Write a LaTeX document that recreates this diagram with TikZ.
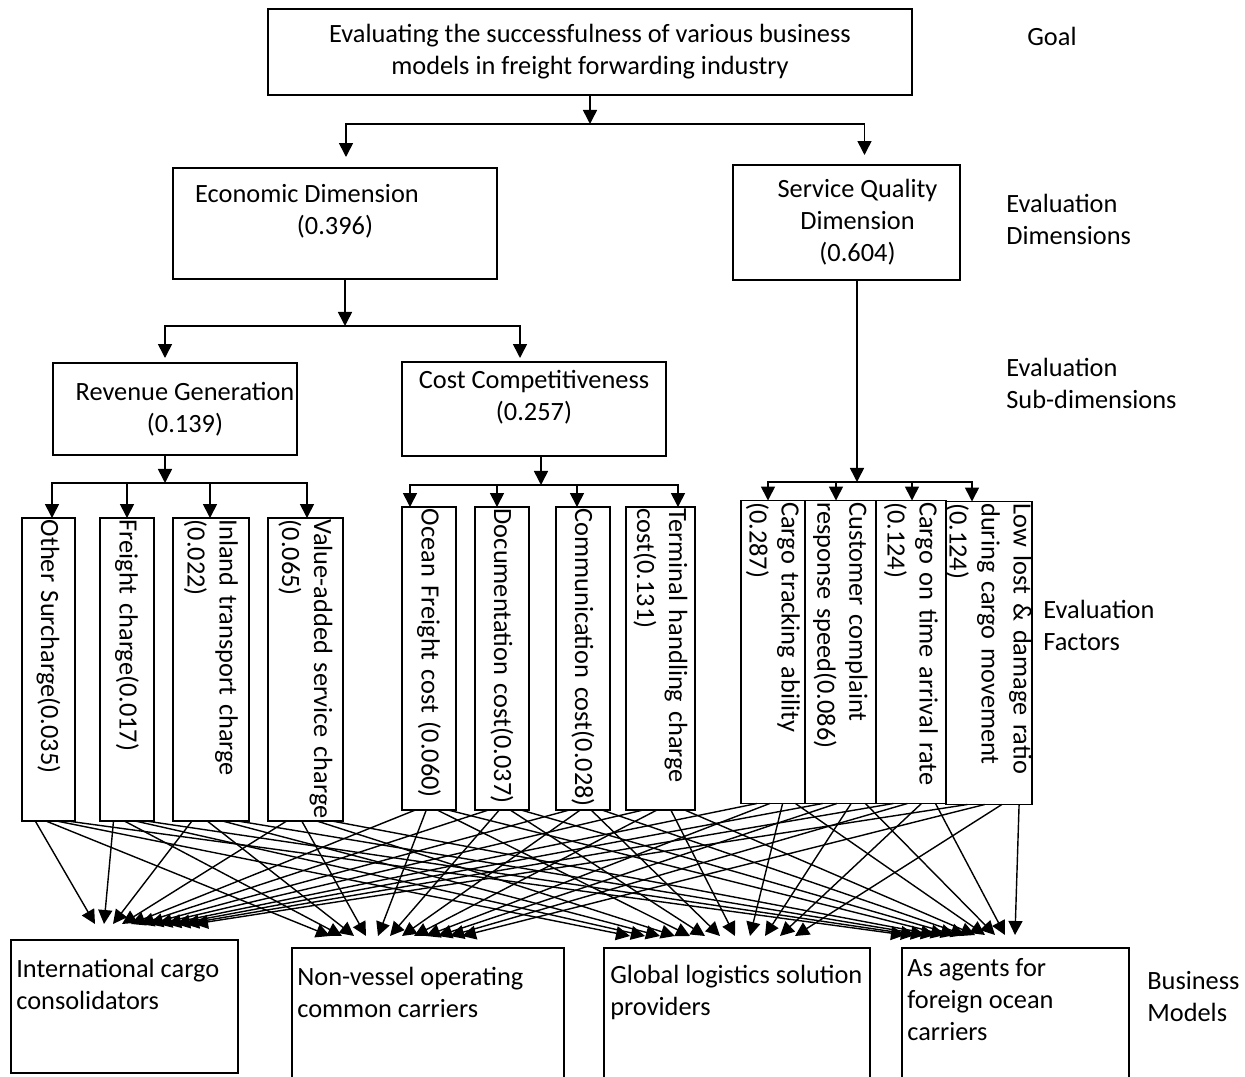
\documentclass[tikz,border=0pt]{standalone}
\usepackage{fontspec}
\setmainfont{Carlito}
\usepackage{tikz}
\usetikzlibrary{calc}
\usetikzlibrary{arrows.meta}

\tikzset{
  box/.style={draw, line width=0.9pt, align=center, inner sep=0pt, outer sep=0pt},
  factor/.style={draw, line width=0.9pt, rotate=-90, minimum width=6.06cm, text width=5.99cm,
    inner xsep=1pt, inner ysep=0pt, outer sep=0pt, align=left},
  modelbox/.style={draw, line width=0.9pt, anchor=north west, outer sep=0pt, minimum height=2.7cm},
  caption/.style={anchor=west, align=left, inner sep=0pt},
  link/.style={->, line width=0.9pt},
  conn/.style={->, line width=0.8pt}
}

\begin{document}
\begin{tikzpicture}[x=0.02cm, y=-0.02cm, font=\fontsize{15pt}{18.2pt}\selectfont,
  >={Triangle[length=0.28cm, width=0.28cm]}]
  \useasboundingbox (0,0) rectangle (1245,1077);

  \node[box, minimum width=12.88cm, minimum height=1.72cm] (goal) at (590,52)
    {Evaluating the successfulness of various business\\models in freight forwarding industry};
  \node[box, minimum width=6.48cm, minimum height=2.22cm] (econ) at (335,223.5)
    {Economic Dimension\rule{1.12cm}{0pt}\\(0.396)\rule[-0.56cm]{0pt}{0pt}};
  \node[box, minimum width=4.54cm, minimum height=2.3cm] (serv) at (846.5,222.5)
    {\rule{0.44cm}{0pt}Service Quality\\\rule{0.44cm}{0pt}Dimension\\\rule{0.44cm}{0pt}(0.604)};
  \node[box, minimum width=4.88cm, minimum height=1.84cm] (rev) at (175,409)
    {\rule{0.4cm}{0pt}Revenue Generation\\\rule{0.4cm}{0pt}(0.139)};
  \node[box, minimum width=5.28cm, minimum height=1.88cm] (cost) at (534,409)
    {Cost Competitiveness\\(0.257)\rule[-0.56cm]{0pt}{0pt}};

  \node[factor, minimum height=1.06cm] (f1) at (48.5,669.5) {Other Surcharge(0.035)};
  \node[factor, minimum height=1.08cm] (f2) at (127,669.5) {Freight charge(0.017)};
  \node[factor, minimum height=1.52cm] (f3) at (211,669.5) {Inland transport charge\\(0.022)};
  \node[factor, minimum height=1.5cm] (f4) at (305.5,669.5) {Value-added service charge\\(0.065)};
  \node[factor, minimum height=1.08cm] (f5) at (429,658.5) {Ocean Freight cost (0.060)};
  \node[factor, minimum height=1.08cm] (f6) at (502,658.5) {Documentation cost(0.037)};
  \node[factor, minimum height=1.08cm] (f7) at (583,658.5) {Communication cost(0.028)};
  \node[factor, minimum height=1.38cm] (f8) at (660.5,658.5) {Terminal handling charge\\cost(0.131)};
  \node[factor, minimum height=1.28cm] (f9) at (773,652) {Cargo tracking ability\\(0.287)};
  \node[factor, minimum height=1.42cm] (f10) at (840.5,652) {Customer complaint\\response speed(0.086)};
  \node[factor, minimum height=1.4cm] (f11) at (911,652) {Cargo on time arrival rate\\(0.124)};
  \node[factor, minimum height=1.72cm] (f12) at (989,653) {Low lost \& damage ratio\\during cargo movement\\(0.124)};

  \node[modelbox, minimum width=4.54cm, minimum height=2.66cm] (m1) at (11,940) {};
  \node[modelbox, minimum width=5.44cm] (m2) at (292,948) {};
  \node[modelbox, minimum width=5.32cm] (m3) at (604,948) {};
  \node[modelbox, minimum width=4.54cm] (m4) at (902,948) {};
  \node[caption] (m1t) at ([shift={(5,44)}]m1.north west) {International cargo\\consolidators};
  \node[caption] (m2t) at ([shift={(5,44)}]m2.north west) {Non-vessel operating\\common carriers};
  \node[caption] (m3t) at ([shift={(6,44)}]m3.north west) {Global logistics solution\\providers};
  \node[caption] (m4t) at ([shift={(5,52)}]m4.north west) {As agents for\\foreign ocean\\carriers};

  \node[caption] (lgoal) at (1027,36) {Goal};
  \node[caption] (ldim) at (1006,219) {Evaluation\\Dimensions};
  \node[caption] (lsub) at (1006,383) {Evaluation\\Sub-dimensions};
  \node[caption] (lfac) at (1043,625) {Evaluation\\Factors};
  \node[caption] (lmod) at (1147,997) {Business\\Models};

  \coordinate (b1) at (590,124);
  \draw[link] (goal.south) -- (b1);
  \draw[link] (b1) -| ([shift={(11,-11)}]econ.north);
  \draw[link] (b1) -| ([shift={(18,-10)}]serv.north);

  \coordinate (b2) at (345,326);
  \draw[link] ([shift={(10,0)}]econ.south) -- (b2);
  \draw[link] (b2) -| ([shift={(-10,-5)}]rev.north);
  \draw[link] (b2) -| ([shift={(-14,-4)}]cost.north);

  \coordinate (b3) at (165,483);
  \draw[link] ([shift={(-10,0)}]rev.south) -- (b3);
  \draw[link] (b3) -| ([shift={(3.5,0)}]f1.west);
  \draw[link] (b3) -| (f2.west);
  \draw[link] (b3) -| ([shift={(-1,0)}]f3.west);
  \draw[link] (b3) -| ([shift={(1.5,0)}]f4.west);

  \coordinate (b4) at (541,485);
  \draw[link] ([shift={(7,0)}]cost.south) -- (b4);
  \draw[link] (b4) -| ([shift={(-19,0)}]f5.west);
  \draw[link] (b4) -| ([shift={(-5,0)}]f6.west);
  \draw[link] (b4) -| ([shift={(-6,0)}]f7.west);
  \draw[link] (b4) -| ([shift={(17.5,0)}]f8.west);

  \coordinate (b5) at (857,482);
  \draw[link] ([shift={(10.5,0)}]serv.south) -- (b5);
  \draw[link] (b5) -| ([shift={(-5,0)}]f9.west);
  \draw[link] (b5) -| ([shift={(-4.5,0)}]f10.west);
  \draw[link] (b5) -| ([shift={(1,0)}]f11.west);
  \draw[link] (b5) -| ([shift={(-17,0)}]f12.west);

  \foreach \i in {1,...,12}{
    \foreach \m/\dx/\st/\dy [count=\j] in {m1/84/9/-16, m2/38/12/-12, m3/26/15/-12, m4/3/10/-13}{
      \pgfmathsetmacro\tpos{0.05+0.2*\j}
      \pgfmathsetmacro\ex{\dx+\st*(\i-1)}
      \draw[conn] ($(f\i.south east)!\tpos!(f\i.north east)$) -- ([shift={(\ex,\dy)}]\m.north west);
    }
  }
\end{tikzpicture}
\end{document}
